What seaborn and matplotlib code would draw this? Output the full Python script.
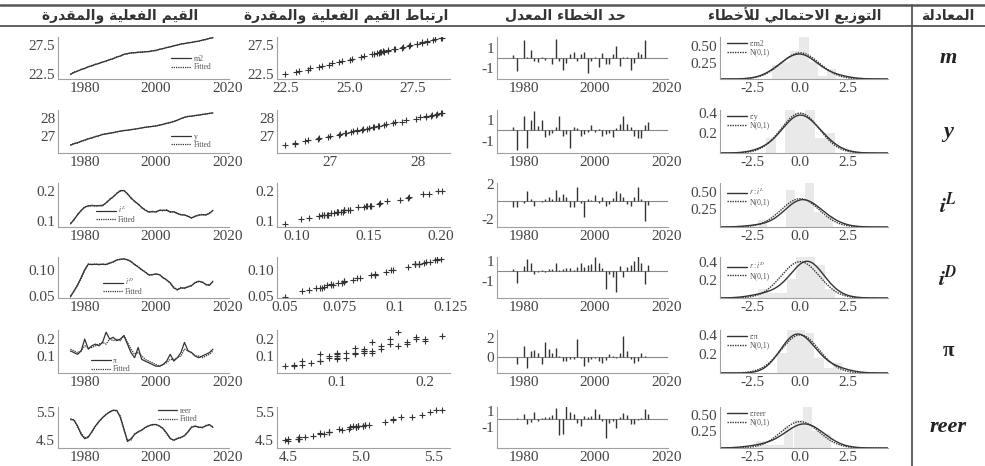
import numpy as np
import pandas as pd
import seaborn as sns
import matplotlib.pyplot as plt
from matplotlib.ticker import FixedLocator, MultipleLocator

# ---- data ----
years = list(range(1976, 2017))
res_years = list(range(1977, 2016))

m2_actual = [22.5, 22.8, 23.05, 23.3, 23.5, 23.75, 23.95, 24.15, 24.35, 24.55, 24.75, 24.95, 25.15, 25.4,
             25.6, 25.85, 26.0, 26.1, 26.15, 26.2, 26.25, 26.3, 26.35, 26.45, 26.55, 26.7, 26.85, 27.0,
             27.15, 27.3, 27.45, 27.6, 27.7, 27.8, 27.9, 28.0, 28.1, 28.25, 28.4, 28.55, 28.7]
m2_fitted = [22.45, 22.9, 23.0, 23.35, 23.45, 23.8, 23.9, 24.2, 24.3, 24.6, 24.7, 25.0, 25.1, 25.45,
             25.55, 25.9, 25.95, 26.15, 26.1, 26.25, 26.2, 26.35, 26.3, 26.5, 26.5, 26.75, 26.8, 27.05,
             27.1, 27.35, 27.4, 27.65, 27.65, 27.85, 27.85, 28.05, 28.05, 28.3, 28.35, 28.6, 28.65]
y_actual = [26.50, 26.57, 26.63, 26.70, 26.78, 26.84, 26.90, 26.96, 27.02, 27.08, 27.12, 27.15, 27.19,
            27.23, 27.27, 27.30, 27.32, 27.35, 27.38, 27.41, 27.45, 27.48, 27.51, 27.53, 27.56, 27.60,
            27.65, 27.70, 27.75, 27.80, 27.88, 27.96, 28.04, 28.08, 28.10, 28.13, 28.16, 28.19, 28.22,
            28.25, 28.28]
y_fitted = [26.49, 26.60, 26.61, 26.72, 26.75, 26.86, 26.88, 26.98, 27.00, 27.10, 27.11, 27.17, 27.18,
            27.24, 27.26, 27.31, 27.31, 27.36, 27.37, 27.42, 27.44, 27.49, 27.50, 27.54, 27.55, 27.61,
            27.64, 27.71, 27.74, 27.82, 27.86, 27.97, 28.02, 28.09, 28.09, 28.14, 28.15, 28.20, 28.21,
            28.26, 28.27]
iL_actual = [0.090, 0.105, 0.120, 0.135, 0.145, 0.150, 0.150, 0.150, 0.150, 0.150, 0.160, 0.170, 0.180,
             0.190, 0.200, 0.200, 0.190, 0.175, 0.165, 0.155, 0.145, 0.135, 0.130, 0.130, 0.130, 0.135,
             0.135, 0.135, 0.130, 0.130, 0.125, 0.120, 0.120, 0.115, 0.110, 0.115, 0.120, 0.120, 0.120,
             0.125, 0.135]
iL_fitted = [0.092, 0.103, 0.122, 0.133, 0.147, 0.148, 0.152, 0.149, 0.151, 0.152, 0.158, 0.172, 0.178,
             0.192, 0.198, 0.201, 0.188, 0.177, 0.163, 0.157, 0.143, 0.137, 0.128, 0.132, 0.129, 0.136,
             0.133, 0.137, 0.128, 0.131, 0.124, 0.121, 0.119, 0.116, 0.109, 0.116, 0.118, 0.122, 0.119,
             0.126, 0.133]
iD_actual = [0.048, 0.060, 0.070, 0.085, 0.100, 0.110, 0.110, 0.110, 0.110, 0.110, 0.110, 0.112, 0.115,
             0.118, 0.120, 0.120, 0.119, 0.115, 0.110, 0.105, 0.100, 0.095, 0.090, 0.090, 0.092, 0.090,
             0.085, 0.080, 0.075, 0.065, 0.062, 0.065, 0.065, 0.067, 0.070, 0.075, 0.078, 0.076, 0.072,
             0.070, 0.078]
iD_fitted = [0.050, 0.058, 0.072, 0.083, 0.098, 0.111, 0.109, 0.111, 0.109, 0.111, 0.109, 0.113, 0.114,
             0.119, 0.119, 0.121, 0.118, 0.116, 0.109, 0.106, 0.099, 0.096, 0.089, 0.091, 0.091, 0.091,
             0.084, 0.081, 0.074, 0.067, 0.061, 0.066, 0.064, 0.068, 0.069, 0.076, 0.077, 0.077, 0.071,
             0.071, 0.077]
pi_actual = [0.13, 0.12, 0.11, 0.13, 0.20, 0.14, 0.16, 0.17, 0.16, 0.18, 0.24, 0.20, 0.21, 0.19, 0.20,
             0.22, 0.17, 0.12, 0.09, 0.15, 0.08, 0.07, 0.06, 0.05, 0.04, 0.04, 0.05, 0.07, 0.11, 0.07,
             0.09, 0.12, 0.18, 0.13, 0.12, 0.10, 0.09, 0.10, 0.11, 0.12, 0.14]
pi_fitted = [0.14, 0.13, 0.12, 0.13, 0.16, 0.15, 0.15, 0.16, 0.17, 0.18, 0.17, 0.20, 0.19, 0.20, 0.19,
             0.22, 0.18, 0.14, 0.11, 0.12, 0.10, 0.08, 0.07, 0.06, 0.05, 0.04, 0.05, 0.06, 0.08, 0.08,
             0.09, 0.10, 0.14, 0.13, 0.12, 0.10, 0.10, 0.09, 0.10, 0.11, 0.13]
reer_actual = [5.25, 5.2, 5.0, 4.7, 4.55, 4.6, 4.8, 5.0, 5.15, 5.3, 5.4, 5.5, 5.55, 5.55, 5.3, 4.9, 4.45,
               4.55, 4.7, 4.8, 4.85, 4.95, 5.0, 5.05, 5.05, 5.0, 4.9, 4.75, 4.55, 4.5, 4.55, 4.6, 4.65,
               4.8, 4.95, 5.0, 4.95, 4.95, 5.0, 5.05, 4.95]
reer_fitted = [5.22, 5.22, 4.95, 4.75, 4.58, 4.62, 4.78, 4.98, 5.17, 5.28, 5.42, 5.48, 5.56, 5.52, 5.35,
               4.85, 4.5, 4.5, 4.72, 4.78, 4.87, 4.93, 5.02, 5.03, 5.06, 4.98, 4.92, 4.72, 4.58, 4.48,
               4.57, 4.58, 4.67, 4.78, 4.97, 4.98, 4.97, 4.93, 5.02, 5.03, 4.97]

# scaled residuals
m2_resid = [0.3, -1.3, 0.0, 1.8, 0.1, 0.8, -0.3, -0.4, 0.1, -0.2, 0.0, -0.6, 1.9, -0.3, -1.2, -0.5, 0.4,
            0.6, -0.3, 0.4, 0.6, -1.5, -0.3, 0.1, -0.9, 0.5, -0.6, -0.6, 0.4, 1.2, -0.8, 0.1, 0.1, -1.2,
            -0.5, 0.6, 0.4, 1.8, 0.0]
y_resid = [0.3, -1.8, 0.0, 1.3, -1.6, 1.0, 1.8, 0.4, 1.0, -0.6, -0.4, -0.2, 0.3, 1.3, -0.5, -0.3, -1.6,
           0.3, 0.2, -0.5, -0.3, -0.1, 0.5, -0.1, 0.1, -0.5, -0.3, -0.2, -0.6, 0.2, 0.6, 1.3, 0.6, 0.3,
           -0.5, -0.7, -0.7, 0.5, 0.8]
iL_resid = [-0.6, -0.6, 0.0, -0.2, 1.2, 0.3, -0.5, 0.1, -0.1, 0.3, 0.5, 0.3, 1.3, 0.5, 0.9, 0.5, -0.6,
            -0.6, 1.7, -0.2, -1.8, 0.3, 0.2, 0.7, -0.2, 0.5, -0.5, -0.3, 0.4, 1.2, 1.0, 0.5, -0.3, -0.5,
            0.5, 1.7, 0.3, -2.2, -0.4]
iD_resid = [0.2, -1.2, 0.0, 0.5, 1.2, 0.8, -0.3, -0.1, 0.1, -0.1, 0.2, 0.2, 0.8, 0.1, 0.2, 0.3, 0.3, 0.1,
            0.4, 0.8, 0.4, 0.6, 0.7, 1.5, 0.8, 0.3, -1.9, -0.3, -0.6, -2.2, 0.5, -0.6, 0.4, 0.6, 1.0, 1.8,
            0.8, -1.3, 0.6]
pi_resid = [0.0, -0.8, 0.0, 1.1, -1.2, 0.6, 0.7, 0.4, -0.8, 1.6, 0.8, 0.4, 0.9, 0.1, -0.5, -0.5, -0.3,
            -0.3, 1.9, -0.2, -1.0, -0.6, -0.3, -0.2, -0.5, -0.7, -0.4, 0.3, 0.1, -0.2, 0.4, 2.2, 0.6,
            -0.3, -0.7, -0.5, 0.4, 0.1, -0.1]
reer_resid = [0.0, 0.1, 0.0, 0.7, -0.6, -0.3, 0.9, -0.2, 0.2, 0.3, 0.3, 0.5, 1.4, -1.9, -1.8, 1.6, 0.9,
              0.6, -0.4, -0.8, 0.4, 0.3, 0.4, 1.3, 0.6, -0.2, -2.3, -0.4, -0.2, -1.0, 0.3, 0.8, 0.5,
              -0.6, -0.6, -0.1, 0.2, 1.2, 0.7]

series_names = ['m2', 'y', '$i^L$', '$i^D$', 'π', 'reer']
resid_names = ['r:m2', 'r:y', '$r{:}i^L$', '$r{:}i^D$', 'r:π', 'r:reer']
row_labels = ['m', 'y', '$\\mathbfit{i}^{\\mathbfit{L}}$', '$\\mathbfit{i}^{\\mathbfit{D}}$', 'π', 'reer']
headers = ['القيم الفعلية والمقدرة', 'ارتباط القيم الفعلية والمقدرة', 'حد الخطاء المعدل',
           'التوزيع الاحتمالي للأخطاء', 'المعادلة']

fit_yticks = [[22.5, 27.5], [27, 28], [0.1, 0.2], [0.05, 0.10], [0.1, 0.2], [4.5, 5.5]]
fit_ylabels = [['22.5', '27.5'], ['27', '28'], ['0.1', '0.2'], ['0.05', '0.10'], ['0.1', '0.2'], ['4.5', '5.5']]
sc_xticks = [[22.5, 25.0, 27.5], [27, 28], [0.10, 0.15, 0.20], [0.05, 0.075, 0.1, 0.125], [0.1, 0.2],
             [4.5, 5.0, 5.5]]
sc_xlabels = [['22.5', '25.0', '27.5'], ['27', '28'], ['0.10', '0.15', '0.20'], ['0.05', '0.075', '0.1', '0.125'],
              ['0.1', '0.2'], ['4.5', '5.0', '5.5']]
res_yticks = [[-1, 1], [-1, 1], [-2, 2], [-1, 1], [0, 2], [-1, 1]]
den_yticks = [[0.25, 0.5], [0.2, 0.4], [0.25, 0.5], [0.2, 0.4], [0.2, 0.4], [0.25, 0.5]]
den_ylabels = [['0.25', '0.50'], ['0.2', '0.4'], ['0.25', '0.50'], ['0.2', '0.4'], ['0.2', '0.4'], ['0.25', '0.50']]

actuals = [m2_actual, y_actual, iL_actual, iD_actual, pi_actual, reer_actual]
fitteds = [m2_fitted, y_fitted, iL_fitted, iD_fitted, pi_fitted, reer_fitted]
resids = [m2_resid, y_resid, iL_resid, iD_resid, pi_resid, reer_resid]

# ---- layout (pixels) ----
W, H = 985, 466
row_px = [(37, 79), (110, 153), (183, 227), (257, 298), (330, 373), (407, 448)]
col_px = [(58, 229), (277, 450), (497, 668), (720, 888)]
fit_ylim = [(21.7, 28.8), (26.06, 28.44), (0.080, 0.225), (0.046, 0.124), (0.0, 0.253), (4.22, 5.67)]
res_ylim = [(-2.1, 2.05), (-2.1, 1.9), (-2.9, 2.1), (-2.8, 1.45), (-1.8, 2.9), (-3.5, 1.5)]
den_ylim = [(0, 0.64), (0, 0.43), (0, 0.62), (0, 0.45), (0, 0.45), (0, 0.62)]
fit_leg = [(0.64, 0.38), (0.64, 0.28), (0.2, 0.3), (0.24, 0.3), (0.17, 0.18), (0.56, 0.8)]

DARK = '#333333'
SPINE = '#a0a0a0'

sns.set_theme(style='white')
plt.rcParams['font.family'] = ['Liberation Serif', 'DejaVu Serif']
plt.rcParams['mathtext.fontset'] = 'stix'
plt.rcParams['axes.unicode_minus'] = False

# Arabic shaping (presentation forms + right-to-left order)
AR = {'ء': (0xFE80, 0), 'أ': (0xFE83, 1), 'ا': (0xFE8D, 1), 'ب': (0xFE8F, 2), 'ة': (0xFE93, 1),
      'ت': (0xFE95, 2), 'ح': (0xFEA1, 2), 'خ': (0xFEA5, 2), 'د': (0xFEA9, 1), 'ر': (0xFEAD, 1),
      'ز': (0xFEAF, 1), 'ط': (0xFEC1, 2), 'ع': (0xFEC9, 2), 'ف': (0xFED1, 2), 'ق': (0xFED5, 2),
      'ل': (0xFEDD, 2), 'م': (0xFEE1, 2), 'و': (0xFEED, 1), 'ي': (0xFEF1, 2)}
LAM_ALEF = {'ا': 0xFEFB, 'أ': 0xFEF7}


def shape_ar(text):
    chars = []
    i = 0
    while i < len(text):
        if text[i] == 'ل' and i + 1 < len(text) and text[i + 1] in LAM_ALEF:
            chars.append(('LA', text[i + 1]))
            i += 2
        else:
            chars.append((text[i], None))
            i += 1
    out = []
    for k, (c, extra) in enumerate(chars):
        prev = chars[k - 1][0] if k > 0 else None
        nxt = chars[k + 1][0] if k + 1 < len(chars) else None
        join_prev = prev in AR and AR[prev][1] == 2
        if c == 'LA':
            out.append(chr(LAM_ALEF[extra] + (1 if join_prev else 0)))
            continue
        if c not in AR:
            out.append(c)
            continue
        base, jt = AR[c]
        join_next = jt == 2 and (nxt == 'LA' or (nxt in AR and AR[nxt][1] > 0))
        if jt == 0:
            form = 0
        elif join_prev and join_next:
            form = 3
        elif join_prev:
            form = 1
        elif join_next:
            form = 2
        else:
            form = 0
        out.append(chr(base + form))
    return ''.join(reversed(out))


def px_axes(fig, col, row):
    l, r = col_px[col]
    t, b = row_px[row]
    return fig.add_axes([l / W, 1 - b / H, (r - l) / W, (b - t) / H])


def style_axes(ax):
    for s in ['top', 'right']:
        ax.spines[s].set_visible(False)
    for s in ['left', 'bottom']:
        ax.spines[s].set_color(SPINE)
        ax.spines[s].set_linewidth(0.8)
    ax.tick_params(which='both', direction='in', color=SPINE, labelsize=11, labelcolor='#444444', pad=2)
    ax.tick_params(which='major', length=4)
    ax.tick_params(which='minor', length=2)
    ax.set_xlabel('')
    ax.set_ylabel('')


def small_legend(ax, **kw):
    leg = ax.legend(frameon=False, fontsize=5.5, handlelength=2.6, handletextpad=0.3,
                    labelspacing=0.05, borderpad=0, **kw)
    for t in leg.get_texts():
        t.set_color('#555555')


fig = plt.figure(figsize=(W / 100, H / 100), dpi=100)
dotted = (0, (1, 0.8))
grid = np.linspace(-4.2, 4.6, 300)
normal_pdf = np.exp(-grid ** 2 / 2) / np.sqrt(2 * np.pi)

for r in range(6):
    # actual and fitted
    ax = px_axes(fig, 0, r)
    sns.lineplot(x=years, y=actuals[r], ax=ax, color=DARK, lw=0.9, label=series_names[r])
    sns.lineplot(x=years, y=fitteds[r], ax=ax, color=DARK, lw=0.9, ls=dotted, label='Fitted')
    ax.set_xlim(1972.5, 2020.5)
    ax.set_ylim(*fit_ylim[r])
    ax.xaxis.set_major_locator(FixedLocator([1980, 2000, 2020]))
    ax.xaxis.set_minor_locator(MultipleLocator(10))
    ax.set_yticks(fit_yticks[r], fit_ylabels[r])
    style_axes(ax)
    small_legend(ax, loc='center left', bbox_to_anchor=fit_leg[r])

    # actual vs fitted scatter
    ax = px_axes(fig, 1, r)
    sns.scatterplot(x=fitteds[r], y=actuals[r], ax=ax, marker='+', s=22, color=DARK, linewidth=0.8)
    ax.set_ylim(*fit_ylim[r])
    ax.set_xticks(sc_xticks[r], sc_xlabels[r])
    ax.set_yticks(fit_yticks[r], fit_ylabels[r])
    ax.xaxis.set_minor_locator(MultipleLocator((sc_xticks[r][1] - sc_xticks[r][0]) / 4))
    style_axes(ax)

    # scaled residuals
    ax = px_axes(fig, 2, r)
    ax.axhline(0, color='#888888', lw=0.8)
    ax.vlines(res_years, 0, resids[r], color=DARK, lw=1.0)
    ax.set_xlim(1972.5, 2020.5)
    ax.set_ylim(*res_ylim[r])
    ax.xaxis.set_major_locator(FixedLocator([1980, 2000, 2020]))
    ax.xaxis.set_minor_locator(MultipleLocator(10))
    ax.set_yticks(res_yticks[r], [str(v) for v in res_yticks[r]])
    ax.yaxis.set_minor_locator(MultipleLocator(1))
    style_axes(ax)

    # residual density
    ax = px_axes(fig, 3, r)
    sns.histplot(x=resids[r], ax=ax, stat='density', binwidth=0.5, color='#e9e9e9', alpha=1,
                 edgecolor='none')
    sns.kdeplot(x=resids[r], ax=ax, color=DARK, lw=1.0, cut=6, bw_adjust=1.9, label=resid_names[r])
    ax.plot(grid, normal_pdf, color=DARK, lw=1.0, ls=dotted, label='N(0,1)')
    ax.set_xlim(-4.2, 4.6)
    ax.set_ylim(*den_ylim[r])
    ax.set_xticks([-2.5, 0.0, 2.5], ['-2.5', '0.0', '2.5'])
    ax.xaxis.set_minor_locator(MultipleLocator(0.5))
    ax.set_yticks(den_yticks[r], den_ylabels[r])
    style_axes(ax)
    small_legend(ax, loc='upper left', bbox_to_anchor=(0.02, 1.02))

    # equation label
    yc = 1 - (row_px[r][0] + row_px[r][1]) / 2 / H
    if r == 4:
        fig.text(948 / W, yc, row_labels[r], ha='center', va='center', fontsize=15, fontweight='bold',
                 color='#222222')
    else:
        fig.text(948 / W, yc, row_labels[r], ha='center', va='center', fontsize=16, fontweight='bold',
                 fontstyle='italic', color='#222222')

# header rule lines and column divider
fig.add_artist(plt.Line2D([0, 1], [1 - 5 / H, 1 - 5 / H], transform=fig.transFigure, color='#555555', lw=1.8))
fig.add_artist(plt.Line2D([0, 1], [1 - 26 / H, 1 - 26 / H], transform=fig.transFigure, color='#555555', lw=1.3))
fig.add_artist(plt.Line2D([912 / W, 912 / W], [0, 1 - 5 / H], transform=fig.transFigure, color='#555555', lw=1.3))

header_x = [120, 346, 565, 795, 948]
for hx, txt in zip(header_x, headers):
    fig.text(hx / W, 1 - 15.5 / H, shape_ar(txt), ha='center', va='center', fontsize=10,
             fontweight='bold', family=['DejaVu Sans'], color='#333333')

fig.savefig('out.png', dpi=100, facecolor='white')
